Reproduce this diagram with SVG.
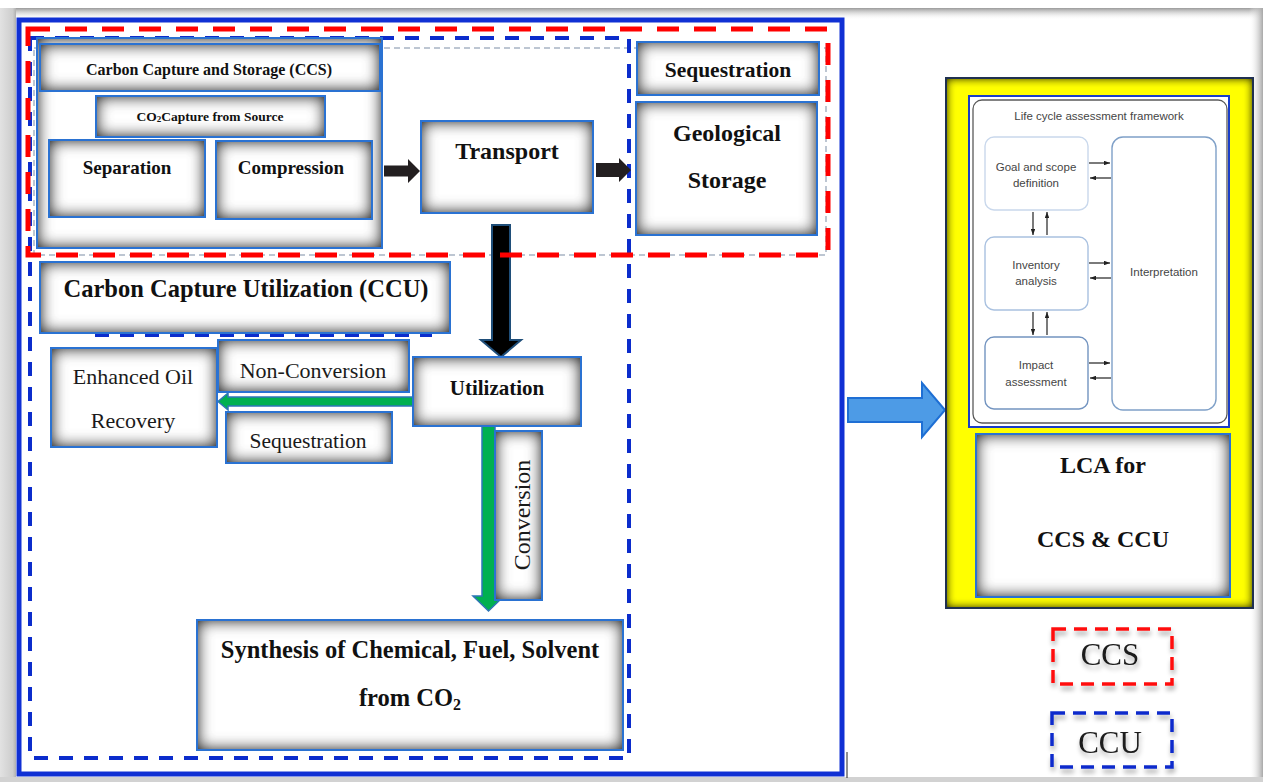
<svg xmlns="http://www.w3.org/2000/svg" width="1263" height="782" viewBox="0 0 1263 782">
  <defs>
    <style>
      .bx { fill: #ffffff; filter: url(#inset); }
      .bd { fill: none; stroke: #2a72d2; stroke-width: 2; }
      .tb { font-family: "Liberation Serif", "Times New Roman", serif; font-weight: bold; fill: #111; text-anchor: middle; }
      .tr { font-family: "Liberation Serif", "Times New Roman", serif; fill: #1a1a1a; text-anchor: middle; }
      .ts { font-family: "Liberation Sans", Arial, sans-serif; fill: #454545; text-anchor: middle; font-size: 11.5px; }
      .fw { fill: #ffffff; stroke-width: 1.4; }
      .arrow-k { fill: #231f20; }
      .arrow-g { fill: #00b050; stroke: #2e75b6; stroke-width: 1.5; }
      .tiny { stroke: #222; stroke-width: 1.2; fill: none; marker-end: url(#tip); }
      .red-dash { fill: none; stroke: #ff0000; stroke-width: 5; stroke-dasharray: 22 15; }
      .blue-dash { fill: none; stroke: #0b2ccc; stroke-width: 4; stroke-dasharray: 14 11; }
      .grey-dash { fill: none; stroke: #a8b4c4; stroke-width: 1.5; stroke-dasharray: 6 4; }
    </style>
    <!-- inner shadow: grey glow along the inside edges of a shape -->
    <filter id="inset" x="-0.5" y="-0.6" width="2" height="2.2" color-interpolation-filters="sRGB">
      <feComponentTransfer in="SourceAlpha" result="outside">
        <feFuncA type="table" tableValues="1 0"/>
      </feComponentTransfer>
      <feGaussianBlur in="outside" stdDeviation="8" result="blur"/>
      <feComponentTransfer in="blur" result="dark">
        <feFuncR type="linear" slope="0" intercept="0.15"/>
        <feFuncG type="linear" slope="0" intercept="0.15"/>
        <feFuncB type="linear" slope="0" intercept="0.15"/>
        <feFuncA type="linear" slope="1.15"/>
      </feComponentTransfer>
      <feComposite in="dark" in2="SourceAlpha" operator="in" result="shadow"/>
      <feMerge><feMergeNode in="SourceGraphic"/><feMergeNode in="shadow"/></feMerge>
    </filter>
    <filter id="insetY" x="-0.2" y="-0.2" width="1.4" height="1.4" color-interpolation-filters="sRGB">
      <feComponentTransfer in="SourceAlpha" result="outside">
        <feFuncA type="table" tableValues="1 0"/>
      </feComponentTransfer>
      <feGaussianBlur in="outside" stdDeviation="5" result="blur"/>
      <feComponentTransfer in="blur" result="dark">
        <feFuncR type="linear" slope="0" intercept="0.2"/>
        <feFuncG type="linear" slope="0" intercept="0.2"/>
        <feFuncB type="linear" slope="0" intercept="0"/>
        <feFuncA type="linear" slope="1.25"/>
      </feComponentTransfer>
      <feComposite in="dark" in2="SourceAlpha" operator="in" result="shadow"/>
      <feMerge><feMergeNode in="SourceGraphic"/><feMergeNode in="shadow"/></feMerge>
    </filter>
    <filter id="drop" x="-20%" y="-20%" width="140%" height="160%">
      <feGaussianBlur in="SourceAlpha" stdDeviation="2.5"/>
      <feOffset dx="1" dy="4" result="b"/>
      <feComponentTransfer in="b" result="s"><feFuncA type="linear" slope="0.35"/></feComponentTransfer>
      <feMerge><feMergeNode in="s"/><feMergeNode in="SourceGraphic"/></feMerge>
    </filter>
    <marker id="tip" viewBox="0 0 8 6" refX="8" refY="3" markerWidth="6" markerHeight="4.5" markerUnits="userSpaceOnUse" orient="auto">
      <path d="M0,0 L8,3 L0,6 Z" fill="#222"/>
    </marker>
    <linearGradient id="gTop" x1="0" y1="0" x2="0" y2="1">
      <stop offset="0" stop-color="#9a9a9a"/>
      <stop offset="1" stop-color="#ffffff" stop-opacity="0"/>
    </linearGradient>
    <linearGradient id="gLeft" x1="0" y1="0" x2="1" y2="0">
      <stop offset="0" stop-color="#e2e2e2"/>
      <stop offset="0.8" stop-color="#cdcdcd"/>
      <stop offset="1" stop-color="#b0b0b0"/>
    </linearGradient>
    <linearGradient id="gRight" x1="0" y1="0" x2="1" y2="0">
      <stop offset="0" stop-color="#ffffff" stop-opacity="0"/>
      <stop offset="1" stop-color="#a8a8a8"/>
    </linearGradient>
  </defs>

  <!-- page -->
  <rect x="0" y="0" width="1263" height="782" fill="#ffffff"/>
  <rect x="0" y="8" width="1263" height="12" fill="url(#gTop)"/>
  <rect x="0" y="8" width="16" height="774" fill="url(#gLeft)"/>
  <rect x="1249" y="8" width="14" height="774" fill="url(#gRight)"/>
  <rect x="0" y="777" width="1263" height="5" fill="#d2d2d2"/>

  <!-- outer process frame -->
  <rect x="19" y="20" width="823" height="754" fill="none" stroke="#1030d4" stroke-width="5"/>
  <line x1="847" y1="752" x2="847" y2="778" stroke="#222" stroke-width="1"/>

  <!-- faint dashed outline around the storage chain -->
  <rect class="grey-dash" x="34" y="48" width="792" height="207"/>

  <!-- CCU boundary -->
  <g id="ccu-boundary">
    <rect class="blue-dash" x="30" y="38" width="599" height="720"/>
    <line class="blue-dash" x1="95" y1="335" x2="432" y2="335" stroke-width="3"/>
  </g>

  <!-- connectors -->
  <g id="connectors">
    <polygon class="arrow-k" points="384,165.5 408,165.5 408,159 420,171 408,183 408,176.5 384,176.5"/>
    <polygon class="arrow-k" points="596,163 619,163 619,158 631,170 619,182 619,177 596,177"/>
    <polygon points="492,225 510,225 510,340 521,340 501,357 481,340 492,340" fill="#000" stroke="#1f4e79" stroke-width="2"/>
    <polygon class="arrow-g" points="413,397 228,397 228,393 218,401.5 228,410 228,406 413,406"/>
    <polygon class="arrow-g" points="482,426 495,426 495,596 504,596 488.5,611 473,596 482,596"/>
    <polygon points="848,398 922,398 922,383 945,410 922,437 922,422 848,422" fill="#4d9be6" stroke="#1e6fd4" stroke-width="2"/>
  </g>

  <!-- CCS block -->
  <g id="ccs">
    <rect class="bx" x="37" y="38" width="345" height="210"/>
    <rect class="bd" x="37" y="38" width="345" height="210" stroke-width="1.5"/>
  </g>
  <g id="ccs-title">
    <rect class="bx" x="40" y="44" width="340" height="47"/>
    <rect class="bd" x="40" y="44" width="340" height="47" stroke-width="1.5"/>
    <text class="tb" x="209" y="75" font-size="16">Carbon Capture and Storage (CCS)</text>
  </g>
  <g id="co2-capture">
    <rect class="bx" x="96" y="96" width="229" height="41"/>
    <rect class="bd" x="96" y="96" width="229" height="41" stroke-width="1.5"/>
    <text class="tb" x="210" y="121" font-size="13.5">CO<tspan font-size="9" dy="1">2</tspan><tspan dy="-1">Capture from Source</tspan></text>
  </g>
  <g id="separation">
    <rect class="bx" x="49" y="140" width="156" height="77"/>
    <rect class="bd" x="49" y="140" width="156" height="77"/>
    <text class="tb" x="127" y="174" font-size="19">Separation</text>
  </g>
  <g id="compression">
    <rect class="bx" x="216" y="141" width="156" height="78"/>
    <rect class="bd" x="216" y="141" width="156" height="78"/>
    <text class="tb" x="291" y="174" font-size="19">Compression</text>
  </g>
  <g id="transport">
    <rect class="bx" x="421" y="121" width="172" height="92"/>
    <rect class="bd" x="421" y="121" width="172" height="92"/>
    <text class="tb" x="507" y="159" font-size="24">Transport</text>
  </g>
  <g id="sequestration-ccs">
    <rect class="bx" x="637" y="42" width="182" height="53"/>
    <rect class="bd" x="637" y="42" width="182" height="53"/>
    <text class="tb" x="728" y="77" font-size="21.5">Sequestration</text>
  </g>
  <g id="geological-storage">
    <rect class="bx" x="636" y="102" width="181" height="133"/>
    <rect class="bd" x="636" y="102" width="181" height="133"/>
    <text class="tb" x="727" y="141" font-size="24">Geological</text>
    <text class="tb" x="727" y="188" font-size="24">Storage</text>
  </g>

  <!-- CCU block -->
  <g id="ccu-title">
    <rect class="bx" x="40" y="262" width="410" height="71"/>
    <rect class="bd" x="40" y="262" width="410" height="71" stroke-width="1.5"/>
    <text class="tb" x="246" y="297" font-size="24.5">Carbon Capture Utilization (CCU)</text>
  </g>
  <g id="enhanced-oil-recovery">
    <rect class="bx" x="51" y="348" width="166" height="99"/>
    <rect class="bd" x="51" y="348" width="166" height="99"/>
    <text class="tr" x="133" y="384" font-size="22">Enhanced Oil</text>
    <text class="tr" x="133" y="428" font-size="22">Recovery</text>
  </g>
  <g id="non-conversion">
    <rect class="bx" x="218" y="340" width="191" height="52"/>
    <rect class="bd" x="218" y="340" width="191" height="52"/>
    <text class="tr" x="313" y="378" font-size="22">Non-Conversion</text>
  </g>
  <g id="sequestration-ccu">
    <rect class="bx" x="226" y="412" width="166" height="51"/>
    <rect class="bd" x="226" y="412" width="166" height="51"/>
    <text class="tr" x="308" y="448" font-size="21.5">Sequestration</text>
  </g>
  <g id="utilization">
    <rect class="bx" x="413" y="357" width="168" height="69"/>
    <rect class="bd" x="413" y="357" width="168" height="69"/>
    <text class="tb" x="497" y="395" font-size="21">Utilization</text>
  </g>
  <g id="conversion">
    <rect class="bx" x="495" y="431" width="47" height="169"/>
    <rect class="bd" x="495" y="431" width="47" height="169"/>
    <text class="tr" transform="translate(530,515) rotate(-90)" x="0" y="0" font-size="24">Conversion</text>
  </g>
  <g id="synthesis">
    <rect class="bx" x="197" y="620" width="426" height="130"/>
    <rect class="bd" x="197" y="620" width="426" height="130"/>
    <text class="tb" x="410" y="658" font-size="24.5">Synthesis of Chemical, Fuel, Solvent</text>
    <text class="tb" x="410" y="706" font-size="24.5">from CO<tspan font-size="16" dy="4">2</tspan></text>
  </g>

  <!-- CCS boundary -->
  <g id="ccs-boundary">
    <rect class="red-dash" x="28" y="29" width="800" height="226"/>
  </g>

  <!-- LCA panel -->
  <g id="lca-panel">
    <rect x="946" y="78" width="307" height="530" fill="#ffff00" filter="url(#insetY)"/>
    <rect x="946" y="78" width="307" height="530" fill="none" stroke="#1f3050" stroke-width="2"/>
  </g>
  <g id="lca-framework">
    <rect x="969" y="96" width="260" height="331" fill="#ffffff" stroke="#1a3ec8" stroke-width="2"/>
    <rect x="973" y="100" width="254" height="323" rx="9" fill="#ffffff" stroke="#5a5a5a" stroke-width="1.3"/>
    <text class="ts" x="1099" y="120" font-size="11.8">Life cycle assessment framework</text>
  </g>
  <g id="lca-goal">
    <rect class="fw" x="985" y="137" width="103" height="73" rx="9" stroke="#c9d8ec"/>
    <text class="ts" x="1036" y="171">Goal and scope</text>
    <text class="ts" x="1036" y="187">definition</text>
  </g>
  <g id="lca-inventory">
    <rect class="fw" x="985" y="237" width="103" height="73" rx="9" stroke="#a9c1e0"/>
    <text class="ts" x="1036" y="269">Inventory</text>
    <text class="ts" x="1036" y="285">analysis</text>
  </g>
  <g id="lca-impact">
    <rect class="fw" x="985" y="337" width="103" height="72" rx="9" stroke="#7394c0"/>
    <text class="ts" x="1036" y="369">Impact</text>
    <text class="ts" x="1036" y="386">assessment</text>
  </g>
  <g id="lca-interpretation">
    <rect class="fw" x="1112" y="137" width="104" height="273" rx="11" stroke="#7fa0c8"/>
    <text class="ts" x="1164" y="276">Interpretation</text>
  </g>
  <g id="lca-links">
    <line class="tiny" x1="1089" y1="163" x2="1110" y2="163"/>
    <line class="tiny" x1="1111" y1="178" x2="1090" y2="178"/>
    <line class="tiny" x1="1089" y1="263" x2="1110" y2="263"/>
    <line class="tiny" x1="1111" y1="278" x2="1090" y2="278"/>
    <line class="tiny" x1="1089" y1="363" x2="1110" y2="363"/>
    <line class="tiny" x1="1111" y1="378" x2="1090" y2="378"/>
    <line class="tiny" x1="1033" y1="212" x2="1033" y2="235"/>
    <line class="tiny" x1="1047" y1="235" x2="1047" y2="212"/>
    <line class="tiny" x1="1033" y1="312" x2="1033" y2="335"/>
    <line class="tiny" x1="1047" y1="335" x2="1047" y2="312"/>
  </g>
  <g id="lca-ccs-ccu">
    <rect class="bx" x="976" y="434" width="254" height="163"/>
    <rect class="bd" x="976" y="434" width="254" height="163"/>
    <text class="tb" x="1103" y="473" font-size="24">LCA for</text>
    <text class="tb" x="1103" y="547" font-size="24">CCS &amp; CCU</text>
  </g>

  <!-- legend -->
  <g id="legend-ccs" filter="url(#drop)">
    <rect x="1053" y="629" width="119" height="55" fill="none" stroke="#ff1010" stroke-width="3.5" stroke-dasharray="13 8"/>
    <text class="tr" x="1110" y="665" font-size="31">CCS</text>
  </g>
  <g id="legend-ccu" filter="url(#drop)">
    <rect x="1052" y="713" width="120" height="54" fill="none" stroke="#0b2ccc" stroke-width="3.5" stroke-dasharray="13 8"/>
    <text class="tr" x="1110" y="753" font-size="31">CCU</text>
  </g>
</svg>
